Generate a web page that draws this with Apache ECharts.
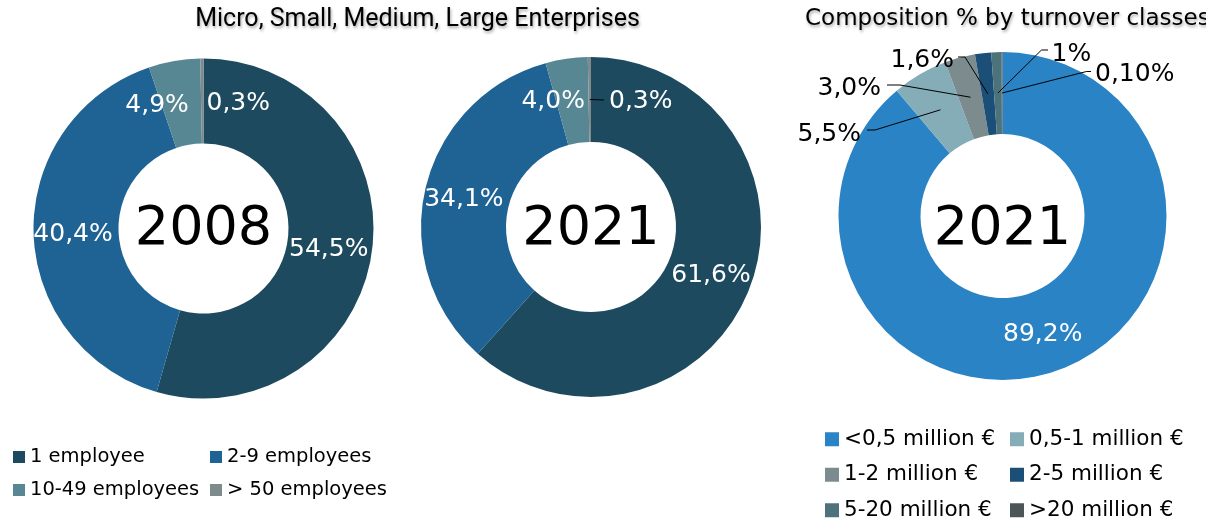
<!DOCTYPE html>
<html>
<head>
<meta charset="utf-8">
<script src="https://cdn.jsdelivr.net/npm/echarts@6/dist/echarts.min.js"></script>
<style>
  html, body { margin: 0; padding: 0; background: #ffffff; }
  #chart { width: 1206px; height: 522px; }
</style>
</head>
<body>
<div id="chart"></div>
<script>
// ---- data ----
const sizeClasses = ['1 employee', '2-9 employees', '10-49 employees', '> 50 employees'];
const share2008 = [54.5, 40.4, 4.9, 0.3];
const share2021 = [61.6, 34.1, 4.0, 0.3];

const turnoverClasses = ['<0,5 million €', '0,5-1 million €', '1-2 million €', '2-5 million €', '5-20 million €', '>20 million €'];
const turnover2021 = [89.2, 5.5, 3.0, 1.6, 1, 0.10];
const turnoverDecimals = [1, 1, 1, 1, 0, 2];

const yearLabels = ['2008', '2021', '2021'];
const chartTitles = ['Micro, Small, Medium, Large Enterprises', 'Composition % by turnover classes'];

// ---- styling / layout ----
const FONT = "'DejaVu Sans', sans-serif";
const sizeColors = ['#1d4a5e', '#1f6395', '#568793', '#7f8a8c'];
const turnoverColors = ['#2983c5', '#84adb8', '#7b8b8e', '#1b4f78', '#4c727c', '#4e5558'];

const donuts = [
  { center: [203.5, 228.5], radius: [85, 170], yearY: 230 },
  { center: [591, 227], radius: [85, 170], yearY: 230 },
  { center: [1002.5, 216], radius: [82, 164], yearY: 230 }
];
const seriesValues = [share2008, share2021, turnover2021];

// point in the middle of the ring, at the mid angle of slice idx
function ringMid(values, idx, d) {
  const total = values.reduce((a, b) => a + b, 0);
  let before = 0;
  for (let i = 0; i < idx; i++) before += values[i];
  const a = (before + values[idx] / 2) / total * Math.PI * 2;
  const r = (d.radius[0] + d.radius[1]) / 2;
  return [d.center[0] + r * Math.sin(a), d.center[1] - r * Math.cos(a)];
}

function pct(v, dec) {
  return v.toFixed(dec).replace('.', ',') + '%';
}

// nudges [dx, dy] for labels sitting inside the ring
const insideShift = [
  { 0: [-4, 3], 1: [0, 3], 2: [-24, 6], 3: [36, 5] },
  { 0: [-2, 2], 1: [0, 2], 2: [-19, 4] },
  { 0: [-3, 0] }
];

// callout labels with leader lines, offsets relative to the donut centre
const callouts = {
  1: { 3: { x: 18, y: -126, align: 'left', bend: [13, -127], end: [13, -127] } },
  2: {
    1: { x: -141.5, y: -82, align: 'right', bend: [-127.5, -86], end: [-135.5, -86] },
    2: { x: -121.5, y: -128, align: 'right', bend: [-102.5, -131], end: [-115.5, -131] },
    3: { x: -48.5, y: -156, align: 'right', bend: [-37.5, -159], end: [-44.5, -159] },
    4: { x: 49, y: -162, align: 'left', bend: [39, -166], end: [45.5, -166] },
    5: { x: 92.5, y: -142, align: 'left', bend: [84, -144.5], end: [88.5, -144.5] }
  }
};

function makeLayout(seriesIdx) {
  const d = donuts[seriesIdx];
  return function (params) {
    const i = params.dataIndex;
    const c = callouts[seriesIdx] && callouts[seriesIdx][i];
    if (c) {
      return {
        x: d.center[0] + c.x,
        y: d.center[1] + c.y,
        align: c.align,
        verticalAlign: 'middle'
      };
    }
    const s = insideShift[seriesIdx] && insideShift[seriesIdx][i];
    if (s) return { dx: s[0], dy: s[1] };
    return undefined;
  };
}

// leader lines from the middle of each small slice to its callout label
function leaderLines() {
  const out = [];
  Object.keys(callouts).forEach(sk => {
    const si = +sk;
    const d = donuts[si];
    Object.keys(callouts[si]).forEach(ik => {
      const i = +ik;
      const c = callouts[si][i];
      out.push({
        type: 'polyline',
        silent: true,
        z: 20,
        shape: {
          points: [
            ringMid(seriesValues[si], i, d),
            [d.center[0] + c.bend[0], d.center[1] + c.bend[1]],
            [d.center[0] + c.end[0], d.center[1] + c.end[1]]
          ]
        },
        style: { stroke: '#000000', lineWidth: 1, fill: null }
      });
    });
  });
  return out;
}

function sizeSeries(idx, values) {
  return {
    type: 'pie',
    center: donuts[idx].center,
    radius: donuts[idx].radius,
    startAngle: 90,
    clockwise: true,
    silent: true,
    avoidLabelOverlap: false,
    label: {
      show: true,
      position: 'inside',
      color: '#ffffff',
      fontFamily: FONT,
      fontSize: 25,
      formatter: p => pct(p.value, 1)
    },
    labelLine: { show: false },
    labelLayout: makeLayout(idx),
    itemStyle: { borderWidth: 0 },
    data: values.map((v, i) => {
      const item = { name: sizeClasses[i], value: v, itemStyle: { color: sizeColors[i] } };
      if (callouts[idx] && callouts[idx][i]) {
        item.label = { position: 'outside', color: '#ffffff' };
      }
      return item;
    })
  };
}

const turnoverSeries = {
  type: 'pie',
  center: donuts[2].center,
  radius: donuts[2].radius,
  startAngle: 90,
  clockwise: true,
  silent: true,
  avoidLabelOverlap: false,
  label: {
    show: true,
    position: 'outside',
    color: '#000000',
    fontFamily: FONT,
    fontSize: 25,
    formatter: p => pct(p.value, turnoverDecimals[p.dataIndex])
  },
  labelLine: { show: false },
  labelLayout: makeLayout(2),
  itemStyle: { borderWidth: 0 },
  data: turnover2021.map((v, i) => {
    const item = { name: turnoverClasses[i], value: v, itemStyle: { color: turnoverColors[i] } };
    if (i === 0) item.label = { position: 'inside', color: '#ffffff' };
    return item;
  })
};

const titleShadow = {
  textShadowColor: 'rgba(0,0,0,0.35)',
  textShadowBlur: 3,
  textShadowOffsetX: 1,
  textShadowOffsetY: 2
};

const option = {
  animation: false,
  backgroundColor: '#ffffff',
  legend: [
    {
      data: sizeClasses,
      left: 13,
      top: 445.5,
      width: 400,
      padding: 0,
      icon: 'rect',
      itemWidth: 12,
      itemHeight: 12,
      itemGap: 10,
      selectedMode: false,
      textStyle: { fontFamily: FONT, fontSize: 19.5, color: '#000000', width: 170, lineHeight: 23 }
    },
    {
      data: turnoverClasses,
      left: 825,
      top: 428,
      width: 380,
      padding: 0,
      icon: 'rect',
      itemWidth: 14,
      itemHeight: 14,
      itemGap: 13,
      selectedMode: false,
      textStyle: { fontFamily: FONT, fontSize: 21.5, color: '#000000', width: 153, lineHeight: 22.5 }
    }
  ],
  graphic: [
    {
      type: 'text', x: 417.5, y: 20, silent: true,
      style: Object.assign({
        text: chartTitles[0], align: 'center', verticalAlign: 'middle',
        font: "25px Roboto, sans-serif", fill: '#000000'
      }, titleShadow)
    },
    {
      type: 'text', x: 805, y: 19, silent: true,
      style: Object.assign({
        text: chartTitles[1], align: 'left', verticalAlign: 'middle',
        font: "23px 'DejaVu Sans', sans-serif", fill: '#000000'
      }, titleShadow)
    }
  ].concat(donuts.map((d, i) => ({
    type: 'text', x: d.center[0], y: d.yearY, silent: true, z: 10,
    style: {
      text: yearLabels[i], align: 'center', verticalAlign: 'middle',
      font: "54px 'DejaVu Sans', sans-serif", fill: '#000000'
    }
  }))).concat(leaderLines()),
  series: [
    sizeSeries(0, share2008),
    sizeSeries(1, share2021),
    turnoverSeries
  ]
};

const chart = echarts.init(document.getElementById('chart'), null, { renderer: 'canvas' });
chart.setOption(option);
</script>
</body>
</html>
